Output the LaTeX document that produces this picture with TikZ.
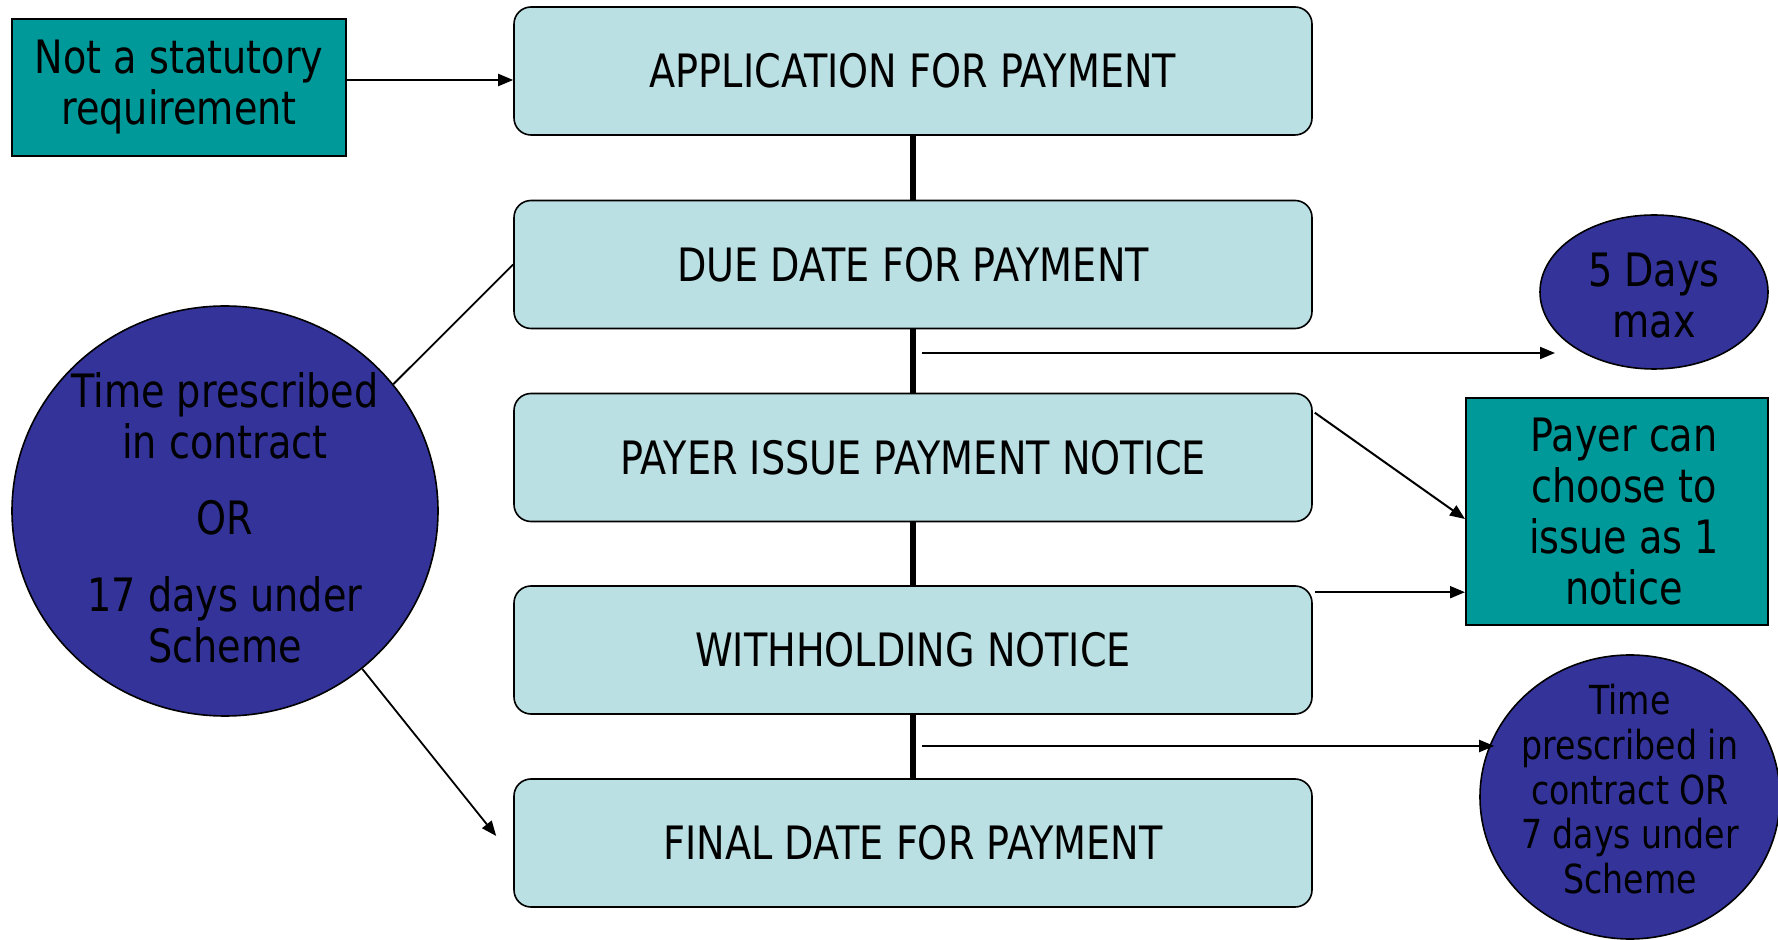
\documentclass[tikz,border=0pt]{standalone}
\usepackage{fontspec}
\setmainfont[FakeStretch=0.83]{DejaVu Sans}
\usetikzlibrary{shapes.geometric,arrows.meta,calc}
\definecolor{boxfill}{RGB}{187,224,227}
\definecolor{tealfill}{RGB}{0,153,153}
\definecolor{navyfill}{RGB}{51,51,153}
\begin{document}
\begin{tikzpicture}[x=0.5pt,y=-0.5pt,
  stage/.style={draw=black, line width=0.8pt, fill=boxfill, rounded corners=8.5pt,
    minimum width=399pt, minimum height=64pt, inner sep=0pt,
    font=\fontsize{23}{25.5}\selectfont},
  tealbox/.style={draw=black, line width=1pt, fill=tealfill, inner sep=0pt, align=center,
    font=\fontsize{23}{25.5}\selectfont},
  navyell/.style={ellipse, draw=black, line width=0.8pt, fill=navyfill, inner xsep=-40pt,
    inner ysep=-40pt, align=center, font=\fontsize{23}{25.5}\selectfont},
  vline/.style={line width=2.6pt},
  arr/.style={line width=1pt, -{Triangle[length=7.5pt,width=6pt]}},
  plain/.style={line width=0.9pt}
]
\useasboundingbox (0,0) rectangle (1778,940);

% main column
\node[stage] (b1) at (913,71) {APPLICATION FOR PAYMENT};
\node[stage] (b2) at (913,264.5) {DUE DATE FOR PAYMENT};
\node[stage] (b3) at (913,457.5) {PAYER ISSUE PAYMENT NOTICE};
\node[stage] (b4) at (913,650) {WITHHOLDING NOTICE};
\node[stage] (b5) at (913,843) {FINAL DATE FOR PAYMENT};

\draw[vline] (b1.south) -- (b2.north);
\draw[vline] (b2.south) -- (b3.north);
\draw[vline] (b3.south) -- (b4.north);
\draw[vline] (b4.south) -- (b5.north);

% side shapes
\node[tealbox, minimum width=167pt, minimum height=68.5pt] (t1) at (179,87.5)
  {Not a statutory\\requirement};
\node[navyell, minimum width=213pt, minimum height=205pt] (c1) at (225,511)
  {\rule{0pt}{24pt}Time prescribed\\in contract\\[12.5pt]OR\\[13pt]17 days under\\Scheme};
\node[navyell, minimum width=114pt, minimum height=77pt] (c2) at (1654,292)
  {\rule{0pt}{20pt}5 Days\\max};
\node[tealbox, minimum width=151pt, minimum height=113.5pt] (t2) at (1617,511.5)
  {\hspace*{7pt}Payer can\\\hspace*{7pt}choose to\\\hspace*{7pt}issue as 1\\\hspace*{7pt}notice};
\node[navyell, minimum width=150pt, minimum height=142pt,
  font=\fontsize{20}{22.3}\selectfont] (c3) at (1630,797)
  {Time\\prescribed in\\contract OR\\7 days under\\Scheme\rule[-8pt]{0pt}{8pt}};

% connectors
\coordinate (s1) at ($(t1.east)+(0,-7.5)$);
\draw[arr] (s1) -- (s1 -| b1.west);

\draw[plain] (c1.37.8) -- (b2.west);
\coordinate (f5) at ($(b5.west)+(-17,-7)$);
\draw[arr, line width=0.9pt] (c1.-49.6) -- (f5);

\coordinate (m23) at (922,353);
\coordinate (e2) at (1555,353);
\draw[arr] (m23) -- (e2);

\coordinate (s3) at ($(b3.north east)+(2,20)$);
\coordinate (e3) at ($(t2.west)+(0,7.5)$);
\draw[arr] (s3) -- (e3);

\coordinate (s4) at ($(b4.north east)+(2,7)$);
\draw[arr] (s4) -- (s4 -| t2.west);

\coordinate (m45) at (922,746);
\coordinate (e5) at ($(m45 -| c3.west)+(15,0)$);
\draw[arr] (m45) -- (e5);
\end{tikzpicture}
\end{document}
